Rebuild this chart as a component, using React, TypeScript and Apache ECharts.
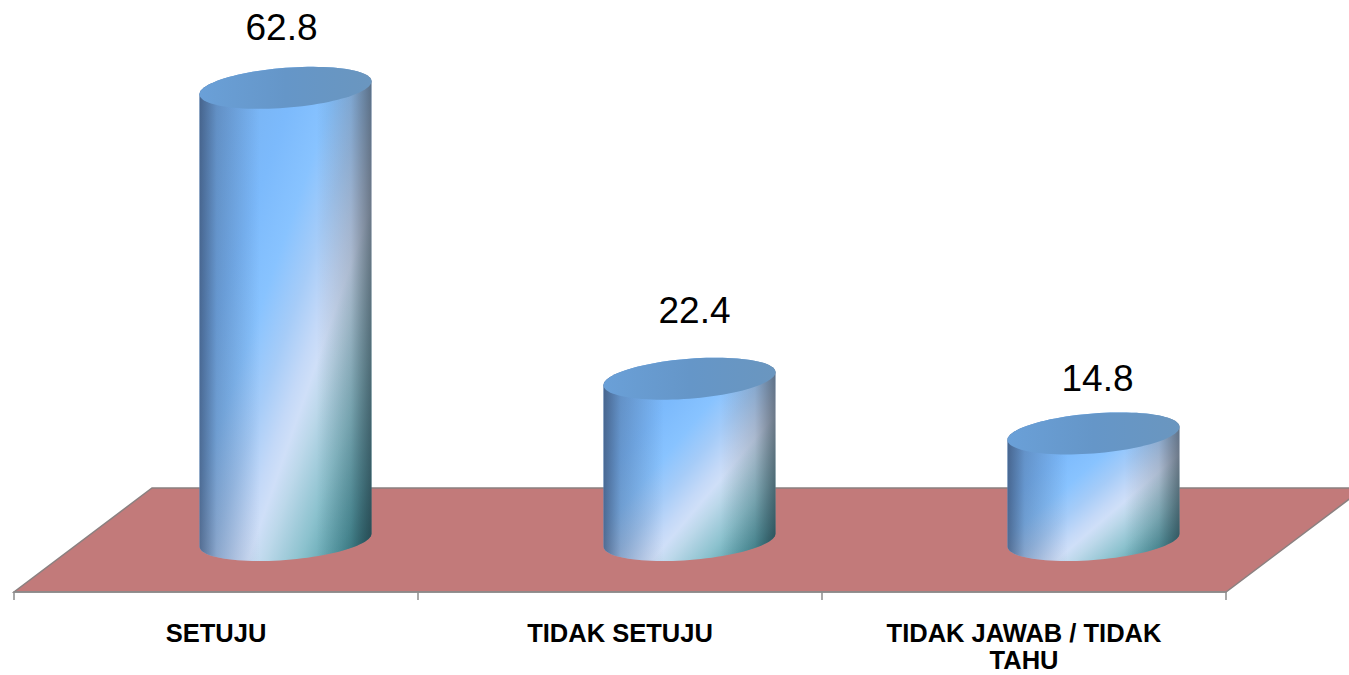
import React, { useEffect, useRef } from "react";
import * as echarts from "echarts";

const categories = ["SETUJU", "TIDAK SETUJU", "TIDAK JAWAB / TIDAK\nTAHU"];
const values = [62.8, 22.4, 14.8];

// presentation constants (not data)
const FONT = '"Liberation Sans", Arial, sans-serif';
const DEPTH_X = 69.5;
const DEPTH_Y = -52;
const RX = 86;
const RY = 20;
const TILT = 6.5;
const labelNudge = [
  [-4, -60],
  [5, -68],
  [4, -55],
];

function ellipseArc(cx: number, cy: number, from: number, to: number, n = 48) {
  const pts: number[][] = [];
  for (let i = 0; i <= n; i++) {
    const t = from + ((to - from) * i) / n;
    pts.push([cx + RX * Math.cos(t), cy - TILT * Math.cos(t) - RY * Math.sin(t)]);
  }
  return pts;
}

const bodyFill = new echarts.graphic.LinearGradient(0, 0, 1, 1, [
  { offset: 0, color: "#74ace8" },
  { offset: 0.3, color: "#7cbafc" },
  { offset: 0.42, color: "#88c3ff" },
  { offset: 0.52, color: "#a6ccf8" },
  { offset: 0.6, color: "#c4d9f8" },
  { offset: 0.64, color: "#cfdff8" },
  { offset: 0.69, color: "#bcd8ea" },
  { offset: 0.79, color: "#8cc2ce" },
  { offset: 0.9, color: "#529ca6" },
  { offset: 1, color: "#1c6a70" },
]);
const sideShade = new echarts.graphic.LinearGradient(0, 0, 1, 0, [
  { offset: 0, color: "rgba(45,60,90,0.65)" },
  { offset: 0.1, color: "rgba(45,60,90,0.28)" },
  { offset: 0.35, color: "rgba(45,60,90,0)" },
  { offset: 0.68, color: "rgba(40,50,60,0)" },
  { offset: 0.88, color: "rgba(40,50,60,0.22)" },
  { offset: 1, color: "rgba(40,50,60,0.6)" },
]);
const capFill = new echarts.graphic.LinearGradient(0, 0, 1, 0, [
  { offset: 0, color: "#6aa0d8" },
  { offset: 0.5, color: "#6596c8" },
  { offset: 1, color: "#6a96bf" },
]);

function renderCylinder(params: any, api: any) {
  const idx = api.value(0);
  const val = api.value(1);
  const base = api.coord([idx, 0]);
  const top = api.coord([idx, val]);
  const cx = base[0] + DEPTH_X;
  const by = base[1] + DEPTH_Y;
  const ty = top[1] + DEPTH_Y;
  const outline = [
    ...ellipseArc(cx, by, 0, -Math.PI),
    ...ellipseArc(cx, ty, Math.PI, 0),
  ];
  const cap = ellipseArc(cx, ty, 0, Math.PI * 2, 96);
  const nudge = labelNudge[params.dataIndex];
  return {
    type: "group",
    children: [
      { type: "polygon", shape: { points: outline }, style: { fill: bodyFill } },
      { type: "polygon", shape: { points: outline }, style: { fill: sideShade } },
      { type: "polygon", shape: { points: cap }, style: { fill: capFill } },
      {
        type: "text",
        style: {
          text: String(val),
          x: cx + nudge[0],
          y: ty + nudge[1],
          fill: "#000",
          font: `37px ${FONT}`,
          align: "center",
          verticalAlign: "middle",
        },
      },
    ],
  };
}

export default function App() {
  const ref = useRef<HTMLDivElement>(null);
  useEffect(() => {
    document.body.style.margin = "0";
    const chart = echarts.init(ref.current!, null, { renderer: "svg" });
    chart.setOption({
      animation: false,
      backgroundColor: "#ffffff",
      grid: { left: 14, right: 123, top: 88, bottom: 83, containLabel: false, outerBoundsMode: "none" },
      xAxis: {
        type: "category",
        data: categories,
        z: 5,
        axisLine: { lineStyle: { color: "#8c8c8c", width: 1.5 } },
        axisTick: { show: true, length: 8, lineStyle: { color: "#8c8c8c", width: 1.5 } },
        axisLabel: {
          color: "#000",
          fontFamily: FONT,
          fontWeight: "bold",
          fontSize: 25.5,
          lineHeight: 27.5,
          margin: 27,
          interval: 0,
        },
      },
      yAxis: { type: "value", min: 0, max: 70, show: false },
      graphic: [
        {
          type: "polygon",
          z: -1,
          shape: {
            points: [
              [14, 592],
              [1226, 592],
              [1364, 488],
              [152, 488],
            ],
          },
          style: { fill: "#c27a7a", stroke: "#8b8080", lineWidth: 1.5 },
        },
      ],
      series: [
        {
          type: "custom",
          clip: false,
          z: 10,
          encode: { x: 0, y: 1 },
          data: categories.map((_, i) => [i, values[i]]),
          renderItem: renderCylinder,
        },
      ],
    });
    return () => chart.dispose();
  }, []);
  return <div ref={ref} style={{ width: 1349, height: 675 }} />;
}
